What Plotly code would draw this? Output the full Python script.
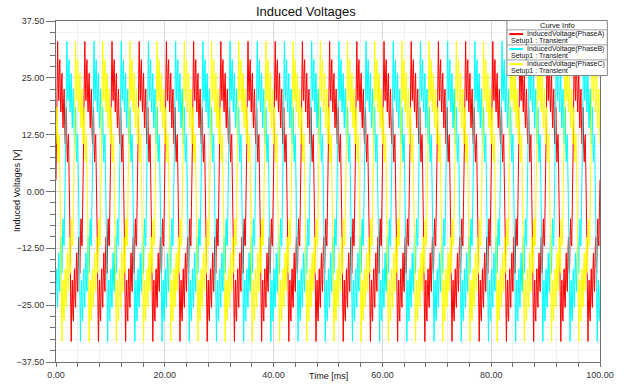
import numpy as np
import plotly.graph_objects as go

# ---- data -----------------------------------------------------------------
# One electrical cycle (5 ms) of induced phase voltage, sampled every 0.1 ms,
# starting at the positive spike that follows the rising edge.
cycle_voltage_v = [
    33.0, 24.0, 20.0, 26.5, 29.0, 21.0, 17.5, 23.0, 26.0, 18.0,
    14.0, 19.5, 22.5, 14.5, 10.5, 16.0, 18.5, 10.0, 6.5, 11.0,
    12.5, 4.0, -2.0, -12.0, -24.0,
    -33.0, -23.5, -19.5, -27.0, -28.5, -20.5, -17.0, -23.5, -25.5, -17.5,
    -13.5, -20.0, -22.0, -14.0, -10.0, -16.5, -18.0, -9.5, -6.0, -11.5,
    -12.0, -3.5, 2.5, 12.5, 24.5,
]
sample_step_ms = 0.1
end_time_ms = 100.0

phase_names = ["InducedVoltage(PhaseA)", "InducedVoltage(PhaseB)", "InducedVoltage(PhaseC)"]
phase_spike_ms = [0.3, 2.0, 3.6]          # time of first positive spike per phase
phase_colors = ["#ff0000", "#00ffff", "#ffff00"]
setup_label = "Setup1 : Transient"

y_tick_values = [-37.5, -25.0, -12.5, 0.0, 12.5, 25.0, 37.5]
x_tick_values = [0, 20, 40, 60, 80, 100]

# ---- build series (repeat the sampled cycle along the time axis) ----------
n_samples = int(round(end_time_ms / sample_step_ms)) + 1
k = np.arange(n_samples)
time_ms = k * sample_step_ms
cycle = np.array(cycle_voltage_v)
n_cycle = len(cycle)

fig = go.Figure()
for name, spike, color in zip(phase_names, phase_spike_ms, phase_colors):
    shift = int(round(spike / sample_step_ms))
    volts = cycle[(k - shift) % n_cycle]
    fig.add_trace(go.Scatter(
        x=time_ms, y=volts, mode="lines", name=name,
        line=dict(color=color, width=1), showlegend=False,
    ))

# ---- layout -----------------------------------------------------------------
W, H = 624, 390
PL, PR, PT, PB = 56, 614, 21, 368


def px(x):
    return (x - PL) / (PR - PL)


def py(y):
    return (PB - y) / (PB - PT)


font = "Arial, Liberation Sans, sans-serif"
axis_col = "#707070"

fig.update_layout(
    width=W, height=H,
    margin=dict(l=PL, r=W - PR, t=PT, b=H - PB, pad=0),
    paper_bgcolor="white", plot_bgcolor="white",
    font=dict(family=font, size=9, color="#333333"),
    showlegend=False,
)

fig.update_xaxes(
    range=[0, 100.0001], tickvals=x_tick_values, tickformat=".2f",
    ticklabeloverflow="allow",
    showline=True, linecolor=axis_col, linewidth=1, mirror=True,
    ticks="outside", ticklen=4, tickcolor=axis_col,
    showgrid=True, gridcolor="#d9d9d9", gridwidth=1, zeroline=False,
    tickfont=dict(size=9, color="#333333"),
    minor=dict(dtick=4, tick0=0, ticks="outside", ticklen=4, tickcolor=axis_col,
               showgrid=True, gridcolor="#eeeeee"),
)
fig.update_yaxes(
    range=[-37.5, 37.5], tickvals=y_tick_values, tickformat=".2f",
    ticklabeloverflow="allow",
    showline=True, linecolor=axis_col, linewidth=1, mirror=True,
    ticks="outside", ticklen=9, tickcolor=axis_col,
    showgrid=True, gridcolor="#d9d9d9", gridwidth=1, zeroline=False,
    tickfont=dict(size=9, color="#333333"),
    minor=dict(dtick=2.5, tick0=0, ticks="outside", ticklen=5, tickcolor=axis_col,
               showgrid=True, gridcolor="#f0f0f0"),
)

annotations = [
    dict(text="Induced Voltages", x=0.5 * W, y=11, size=13),
    dict(text="Time [ms]", x=335, y=382, size=9),
]
ann = []
for a in annotations:
    ann.append(dict(text=a["text"], xref="paper", yref="paper",
                    x=px(a["x"]), y=py(a["y"]), xanchor="center", yanchor="middle",
                    showarrow=False, font=dict(family=font, size=a["size"], color="#111111")))
ann.append(dict(text="Induced Voltages [V]", xref="paper", yref="paper",
                x=px(16), y=py(194), xanchor="center", yanchor="middle", textangle=-90,
                showarrow=False, font=dict(family=font, size=9, color="#111111")))

# ---- curve info box ---------------------------------------------------------
bx0, bx1, by0, by1 = 518.5, 621.5, 20.5, 76.5
row_h = 15.3
header_bottom = 30.0
box_font = 7
shapes = [dict(type="rect", xref="paper", yref="paper",
               x0=px(bx0), x1=px(bx1), y0=py(by1), y1=py(by0),
               fillcolor="white", line=dict(color="#808080", width=1), layer="above")]
ann.append(dict(text="Curve Info", xref="paper", yref="paper",
                x=px((bx0 + bx1) / 2), y=py(25.3), xanchor="center", yanchor="middle",
                showarrow=False, font=dict(family=font, size=7.5, color="#111111")))
for i, (name, color) in enumerate(zip(phase_names, phase_colors)):
    top = header_bottom + i * row_h
    shapes.append(dict(type="line", xref="paper", yref="paper",
                       x0=px(bx0), x1=px(bx1), y0=py(top), y1=py(top),
                       line=dict(color="#a0a0a0", width=1), layer="above"))
    shapes.append(dict(type="line", xref="paper", yref="paper",
                       x0=px(521), x1=px(535), y0=py(top + 4.3), y1=py(top + 4.3),
                       line=dict(color=color, width=2), layer="above"))
    ann.append(dict(text=name, xref="paper", yref="paper",
                    x=px(537.5), y=py(top + 3.8), xanchor="left", yanchor="middle",
                    showarrow=False, font=dict(family=font, size=box_font, color="#111111")))
    ann.append(dict(text=setup_label, xref="paper", yref="paper",
                    x=px(520.5), y=py(top + 11.6), xanchor="left", yanchor="middle",
                    showarrow=False, font=dict(family=font, size=box_font, color="#111111")))

fig.update_layout(annotations=ann, shapes=shapes)
fig.write_html("out.html")
